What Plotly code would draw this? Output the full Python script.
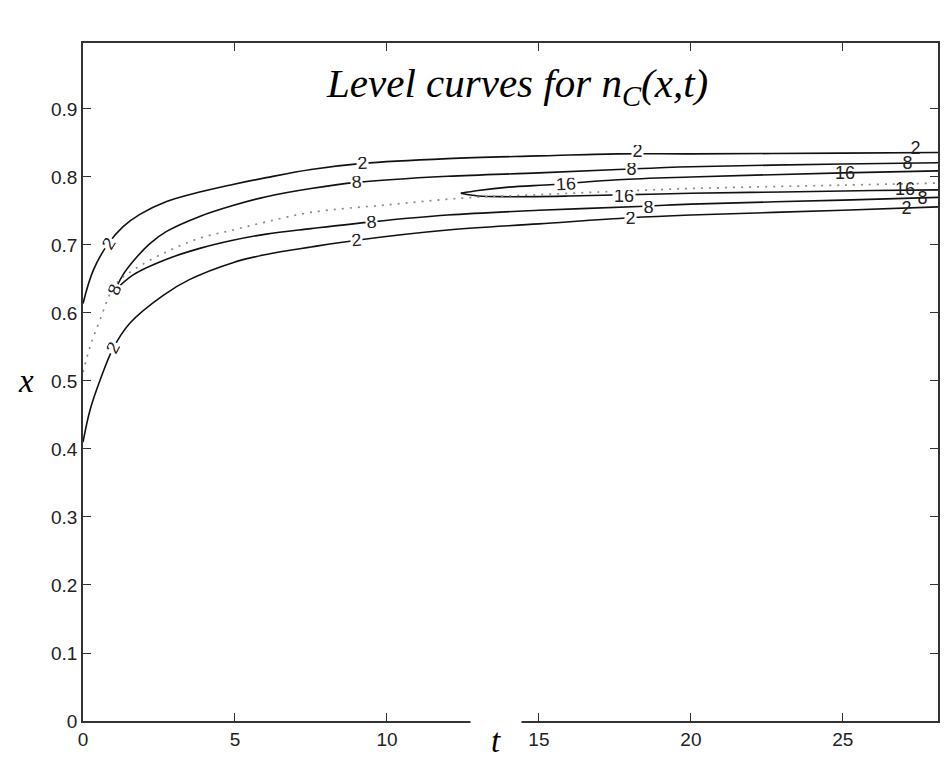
import plotly.graph_objects as go

# Level 2, upper branch (t, x)
t_up2 = [0, 0.34, 0.83, 1.32, 1.87, 2.75, 3.84, 4.93, 6.03, 7.5, 9.2, 12, 15, 17.6, 20, 25, 28.13]
x_up2 = [0.614, 0.663, 0.702, 0.727, 0.745, 0.764, 0.778, 0.789, 0.799, 0.811, 0.820, 0.827, 0.831, 0.834, 0.834, 0.835, 0.836]

# Level 8, upper branch starting at the tip
t_up8 = [1.05, 1.3, 1.65, 2.2, 2.75, 3.84, 4.93, 6.03, 7.5, 9.0, 12, 15, 17.6, 20, 25, 28.13]
x_up8 = [0.633, 0.655, 0.676, 0.702, 0.720, 0.742, 0.758, 0.771, 0.783, 0.792, 0.801, 0.806, 0.811, 0.815, 0.819, 0.821]

# Level 8, lower branch starting at the tip
t_lo8 = [1.05, 1.65, 2.75, 3.84, 4.93, 6.03, 7.5, 9.5, 12, 15, 18.5, 20, 25, 28.13]
x_lo8 = [0.633, 0.656, 0.679, 0.695, 0.707, 0.716, 0.724, 0.734, 0.744, 0.751, 0.757, 0.760, 0.766, 0.770]

# Level 2, lower branch
t_lo2 = [0, 0.23, 0.56, 0.99, 1.54, 2.64, 3.5, 4.93, 6.03, 7.5, 9.0, 12, 15, 18, 20, 25, 28.13]
x_lo2 = [0.41, 0.457, 0.501, 0.548, 0.585, 0.626, 0.649, 0.674, 0.686, 0.697, 0.707, 0.722, 0.731, 0.740, 0.744, 0.751, 0.756]

# Level 16, upper and lower branches from the tip
t_up16 = [12.43, 13.0, 14.0, 15.5, 17.6, 20, 25, 28.13]
x_up16 = [0.776, 0.780, 0.785, 0.789, 0.796, 0.800, 0.806, 0.809]
t_lo16 = [12.43, 13.0, 14.0, 16.0, 18.0, 20, 23, 26, 28.13]
x_lo16 = [0.776, 0.772, 0.771, 0.772, 0.774, 0.776, 0.778, 0.780, 0.781]

# Ridge of n_C (dotted)
t_ridge = [0, 0.23, 0.56, 1.05, 1.65, 2.75, 3.84, 4.93, 6.03, 7.5, 10, 12.5, 15, 17.6, 20, 25, 28.13]
x_ridge = [0.513, 0.550, 0.590, 0.641, 0.663, 0.690, 0.710, 0.722, 0.734, 0.748, 0.759, 0.769, 0.774, 0.779, 0.783, 0.788, 0.791]

# Contour labels
label_text = ["2", "8", "2", "2", "8", "8", "2", "16", "16", "2", "8", "8", "2", "16", "2", "8", "16", "8", "2"]
label_t = [0.83, 1.05, 0.99, 9.2, 9.0, 9.5, 9.0, 15.9, 17.8, 18.25, 18.05, 18.6, 18.0, 25.06, 27.4, 27.14, 27.03, 27.63, 27.1]
label_x = [0.702, 0.635, 0.548, 0.821, 0.793, 0.734, 0.707, 0.789, 0.772, 0.838, 0.812, 0.756, 0.739, 0.806, 0.842, 0.820, 0.782, 0.769, 0.754]
label_angle = [-58, -68, -62, -3, -4, -5, -5, -3, 0, 0, 0, -2, -2, 0, 0, 0, 0, 0, 0]

y_ticks = [0, 0.1, 0.2, 0.3, 0.4, 0.5, 0.6, 0.7, 0.8, 0.9]
x_ticks = [0, 5, 10, 15, 20, 25]

fig = go.Figure()

solid = dict(color="#111111", width=1.6)
for tt, xx in [(t_up2, x_up2), (t_up8, x_up8), (t_lo8, x_lo8), (t_lo2, x_lo2),
               (t_up16, x_up16), (t_lo16, x_lo16)]:
    fig.add_trace(go.Scatter(x=tt, y=xx, mode="lines", line=dict(shape="spline", smoothing=1.0, **solid),
                             hoverinfo="skip", showlegend=False))

fig.add_trace(go.Scatter(x=t_ridge, y=x_ridge, mode="lines",
                         line=dict(color="#8a8a8a", width=1.7, dash="2px,6px", shape="spline", smoothing=1.0),
                         hoverinfo="skip", showlegend=False))

label_font = dict(family="Liberation Sans, Arial", size=18, color="#222222")
for txt, tt, xx, ang in zip(label_text, label_t, label_x, label_angle):
    crowded = tt > 24
    fig.add_annotation(x=tt, y=xx, text=txt, showarrow=False, textangle=ang, font=label_font,
                       bgcolor="rgba(255,255,255,0)" if crowded else "white",
                       width=11 * len(txt), height=18 if crowded else 12, borderpad=0)

# Title and axis letters
serif = "Liberation Serif, Times New Roman"
fig.add_annotation(xref="paper", yref="paper", x=0.508, y=0.936, showarrow=False,
                   text="<i>Level curves for n<sub>C</sub>(x,t)</i>",
                   font=dict(family=serif, size=41, color="black"),
                   xanchor="center", yanchor="middle")
fig.add_annotation(xref="paper", yref="paper", x=(26 - 83) / 857, y=(721 - 381) / 678, showarrow=False,
                   text="<i>x</i>", xanchor="center", yanchor="middle",
                   font=dict(family=serif, size=33, color="black"))
fig.add_annotation(xref="paper", yref="paper", x=(497 - 83) / 857, y=(721 - 741) / 678, showarrow=False,
                   text="<i>t</i>", xanchor="center", yanchor="middle", bgcolor="white",
                   width=48, height=44,
                   font=dict(family=serif, size=33, color="black"))

axis_common = dict(showline=True, linecolor="#333333", linewidth=1.6, mirror="ticks",
                   ticks="inside", ticklen=8, tickwidth=1.4, tickcolor="#333333",
                   showgrid=False, zeroline=False,
                   tickfont=dict(family="Liberation Sans, Arial", size=19, color="#222222"))

fig.update_xaxes(range=[0, 28.13], tickvals=x_ticks, ticktext=[str(v) for v in x_ticks], **axis_common)
fig.update_yaxes(range=[0, 0.997], tickvals=y_ticks, ticktext=["0" if v == 0 else f"{v:.1f}" for v in y_ticks],
                 **axis_common)

fig.update_layout(width=951, height=765, margin=dict(l=83, r=11, t=43, b=44),
                  paper_bgcolor="white", plot_bgcolor="white")

fig.write_html("out.html")
